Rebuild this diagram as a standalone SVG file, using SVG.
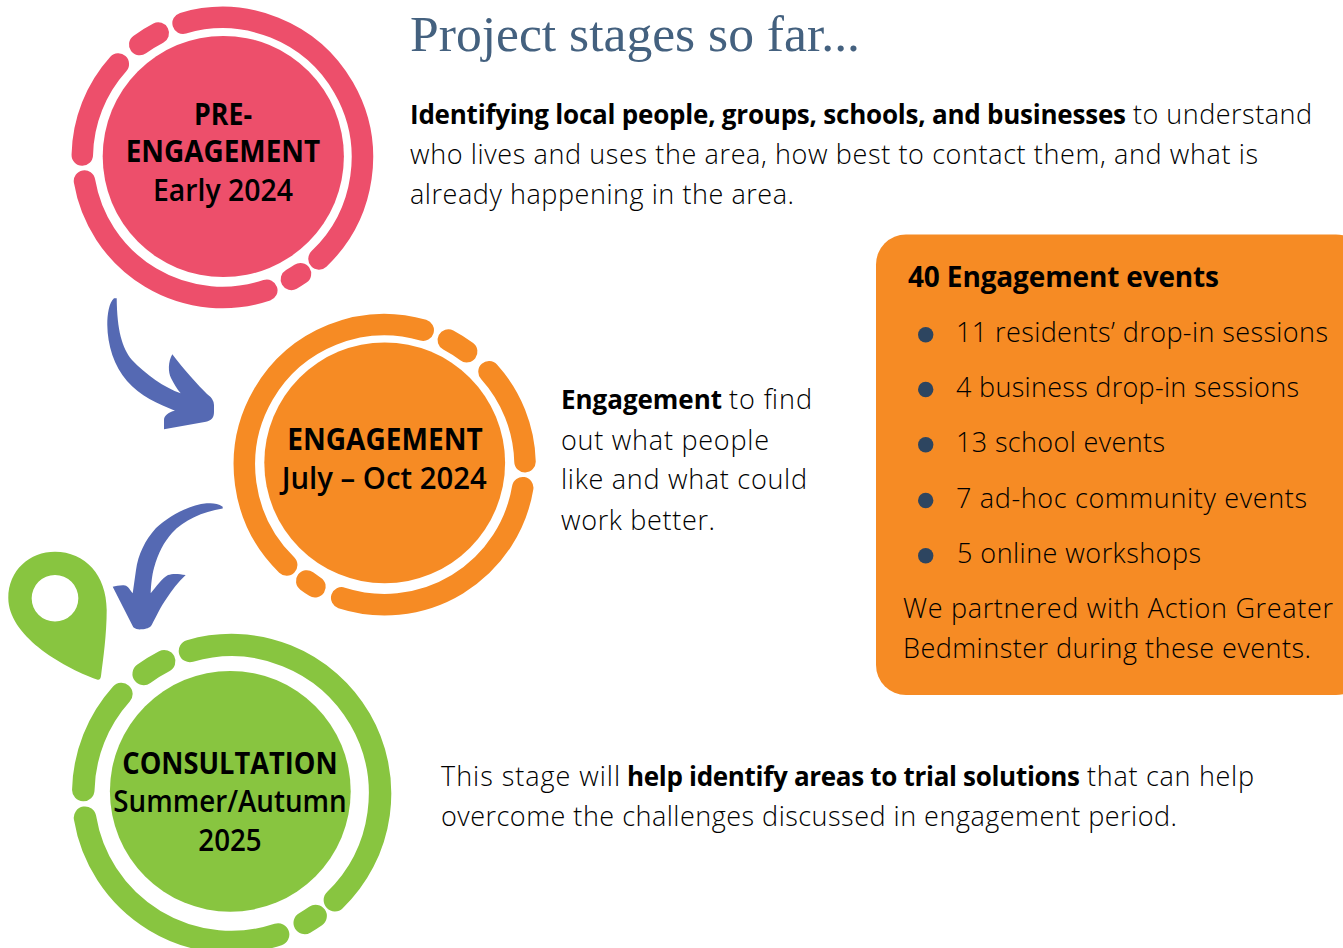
<svg xmlns="http://www.w3.org/2000/svg" width="1343" height="948" viewBox="0 0 1343 948">
<style>
.ring{fill:none;stroke-linecap:round;stroke-width:21.5}
.stage{font-family:"Open Sans","Liberation Sans",sans-serif;font-size:30px;fill:#000}
.b{font-weight:700}
.r{font-weight:600}
.body{font-family:"Open Sans","Liberation Sans",sans-serif;font-size:27px;font-weight:300;fill:#000}
.strong{font-size:26px;font-weight:700}
.lead{font-size:28px}
.title{font-family:"Liberation Serif",serif;font-size:50px;fill:#44617f}
.arrow{fill:#5569b3}
.dot{fill:#2d4560}
</style>
<g id="connectors">
<path class="arrow" d="M114 298.300C109 303 107.300 314 107.300 325C107.500 345 114 366 127 381C140 396 158 404 175 410.700C168 412 164 416 164 420L164 429.300L206 421.700C211 420.500 214 418 214 412L214 405Q214 399 207 394C198 385 184 370 172.300 354.300C168 362 168 372 171 378C174 384 177 389 180.700 393.300C165 388 145 374 132 360C122 348 117 330 116.700 298.300Z"/>
<path class="arrow" d="M222.700 506.700C218 503 212 503 206.700 503.300C190 505 170 515 156 528C145 540 138 555 136 570L132.700 593.300C130 590 128 586 125 585.500C121 585 116 586 112.700 586.700L133.300 627.300C136 629.500 139 629.500 141.700 629.300C146 629 150 628 151.700 625C157 615 160 608 166.700 598.300C172 590 178 582 185.700 575C178 573.500 172 573.500 168 575C162 578 156 587 150.700 593.300C151 585 152 575 154 568C158 553 164 542 172 533C184 520 202 512 222.700 508.500Z"/>
</g>
<g id="stage-pre-engagement">
<circle cx="223.300" cy="156.500" r="120.600" fill="#ed4f6b"/>
<g class="ring" stroke="#ed4f6b">
<path d="M183.100 23.200A140 140 0 0 1 319 258.900"/>
<path d="M139.700 44.600A140 140 0 0 1 158.300 33.100"/>
<path d="M118.300 64A140 140 0 0 0 82.300 155"/>
<path d="M84.500 181A140 140 0 0 0 266.800 290.300"/>
<path d="M291.400 279.400A140 140 0 0 0 300.500 273.700"/>
</g>
<text class="stage b" x="194" y="124.500" textLength="58" lengthAdjust="spacingAndGlyphs">PRE-</text>
<text class="stage b" x="125.700" y="161.700" textLength="194.500" lengthAdjust="spacingAndGlyphs">ENGAGEMENT</text>
<text class="stage r" x="153" y="200.700" textLength="140" lengthAdjust="spacingAndGlyphs">Early 2024</text>
</g>
<g id="stage-engagement">
<circle cx="384.700" cy="462.800" r="120.400" fill="#f68b24"/>
<g class="ring" stroke="#f68b24">
<path d="M423.200 330.200A140 140 0 0 0 286.700 565"/>
<path d="M448.300 340A140 140 0 0 1 466.700 351.700"/>
<path d="M489 371.700A140 140 0 0 1 525 461.700"/>
<path d="M522.700 487.700A140 140 0 0 1 341.700 597.900"/>
<path d="M306.700 581A140 140 0 0 0 315 586.700"/>
</g>
<text class="stage b" x="287.300" y="450" textLength="195.400" lengthAdjust="spacingAndGlyphs">ENGAGEMENT</text>
<text class="stage r" x="281.700" y="489.300" textLength="205" lengthAdjust="spacingAndGlyphs">July – Oct 2024</text>
</g>
<g id="stage-consultation">
<circle cx="230.300" cy="791.300" r="120.400" fill="#88c540"/>
<g class="ring" stroke="#88c540" style="stroke-width:22.500">
<path d="M190 651A148.500 148.500 0 0 1 334.900 900.200"/>
<path d="M143.700 673.900A148.500 148.500 0 0 1 164.200 661.200"/>
<path d="M121.400 694A148.500 148.500 0 0 0 83.300 790"/>
<path d="M85 817.700A148.500 148.500 0 0 0 278.100 934.500"/>
<path d="M304.700 922.900A148.500 148.500 0 0 0 315.600 916"/>
</g>
<text class="stage b" x="122.300" y="774" textLength="215.400" lengthAdjust="spacingAndGlyphs">CONSULTATION</text>
<text class="stage r" x="113.300" y="811.700" textLength="233.400" lengthAdjust="spacingAndGlyphs">Summer/Autumn</text>
<text class="stage r" x="198.300" y="850.700" textLength="63.400" lengthAdjust="spacingAndGlyphs">2025</text>
<path id="pin" fill-rule="evenodd" fill="#88c540" d="M97 679.500C60 666 8.300 635 8.300 598C8.300 570 30 551.700 55 551.700C85 551.700 106.700 575 106.700 610C106.700 635 103 660 101 676Q100.500 680.500 97 679.500ZM55 575A23.300 23.300 0 1 0 55 621.600A23.300 23.300 0 1 0 55 575Z"/>
</g>
<g id="heading"><text class="title" x="410" y="51" textLength="450" lengthAdjust="spacingAndGlyphs">Project stages so far...</text></g>
<g id="text-pre-engagement">
<text class="body strong" x="410" y="124" textLength="716">Identifying local people, groups, schools, and businesses</text>
<text class="body" x="1133" y="124" textLength="179">to understand</text>
<text class="body" x="410" y="164" textLength="848">who lives and uses the area, how best to contact them, and what is</text>
<text class="body" x="410" y="204" textLength="384">already happening in the area.</text>
</g>
<g id="text-engagement">
<text class="body strong" x="561" y="409" textLength="161">Engagement</text>
<text class="body" x="729" y="409" textLength="83">to find</text>
<text class="body" x="561" y="449.500" textLength="208">out what people</text>
<text class="body" x="561" y="489" textLength="246">like and what could</text>
<text class="body" x="561" y="529.500" textLength="154">work better.</text>
</g>
<g id="events-box">
<rect x="876" y="234.500" width="490" height="460.500" rx="30" fill="#f68b24"/>
<text class="body strong lead" x="908" y="286.700" textLength="311">40 Engagement events</text>
<circle class="dot" cx="925.700" cy="334.700" r="7.700"/>
<circle class="dot" cx="925.700" cy="389.500" r="7.700"/>
<circle class="dot" cx="925.700" cy="444.700" r="7.700"/>
<circle class="dot" cx="925.700" cy="500.500" r="7.700"/>
<circle class="dot" cx="925.700" cy="555.700" r="7.700"/>
<text class="body" x="956" y="341.700" textLength="372">11 residents’ drop-in sessions</text>
<text class="body" x="956" y="396.700" textLength="343">4 business drop-in sessions</text>
<text class="body" x="956" y="451.700" textLength="209">13 school events</text>
<text class="body" x="956" y="507.700" textLength="351">7 ad-hoc community events</text>
<text class="body" x="957" y="562.700" textLength="244">5 online workshops</text>
<text class="body" x="903" y="617.700" textLength="430">We partnered with Action Greater</text>
<text class="body" x="903" y="657.700" textLength="408">Bedminster during these events.</text>
</g>
<g id="text-consultation">
<text class="body" x="441" y="786" textLength="179">This stage will</text>
<text class="body strong" x="627" y="786" textLength="453">help identify areas to trial solutions</text>
<text class="body" x="1087" y="786" textLength="167">that can help</text>
<text class="body" x="441" y="826" textLength="736">overcome the challenges discussed in engagement period.</text>
</g>
</svg>
